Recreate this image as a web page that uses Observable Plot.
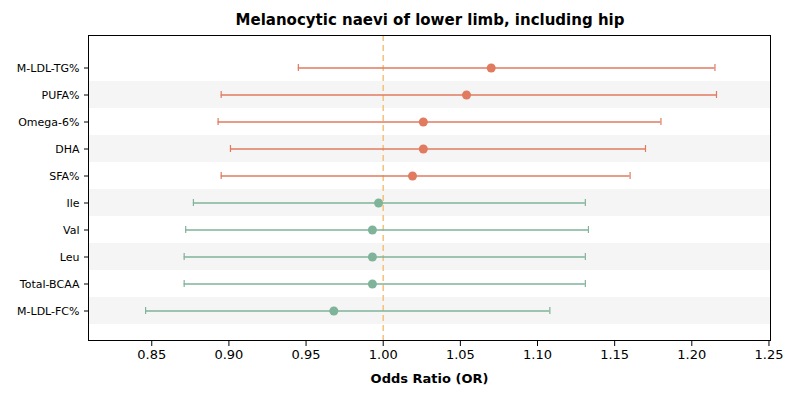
<!DOCTYPE html>
<html><head>
<meta charset="utf-8">
<script src="https://cdn.jsdelivr.net/npm/d3@7"></script>
<script src="https://cdn.jsdelivr.net/npm/@observablehq/plot@0.6"></script>
<style>body{margin:0;background:#fff;font-family:"DejaVu Sans",sans-serif}
#title{height:26px;line-height:40px;text-align:center;font-weight:bold;font-size:15px;padding-left:60px}</style>
</head><body>
<div id="title">Melanocytic naevi of lower limb, including hip</div>
<div id="chart"></div>
<script>
const names = ["M-LDL-TG%","PUFA%","Omega-6%","DHA","SFA%","Ile","Val","Leu","Total-BCAA","M-LDL-FC%"];
const orVals = [1.070,1.054,1.026,1.026,1.019,0.997,0.993,0.993,0.993,0.968];
const lower = [0.945,0.895,0.893,0.901,0.895,0.877,0.872,0.871,0.871,0.846];
const upper = [1.215,1.216,1.180,1.170,1.160,1.131,1.133,1.131,1.131,1.108];
const group = ["fa","fa","fa","fa","fa","aa","aa","aa","aa","aa"];

const data = names.map((n,i)=>({name:n, or:orVals[i], lo:lower[i], hi:upper[i], g:group[i], i}));
const stripes = data.filter(d=>d.i%2===1);
const col = g => g==="fa" ? "#e07b5f" : "#7fb39a";
const dom = [0.809, 1.251];

const chart = Plot.plot({
  width: 800, height: 374,
  marginLeft: 88, marginRight: 30, marginTop: 9, marginBottom: 60,
  style: {fontFamily: "DejaVu Sans, sans-serif", fontSize: "11px"},
  x: {domain: dom, ticks: d3.range(0.85,1.2501,0.05), tickFormat: d3.format(".2f"),
      label: "Odds Ratio (OR)", labelAnchor: "center", labelOffset: 42},
  y: {domain: names, padding: 0, label: null, tickSize: 4, insetTop: 14, insetBottom: 12},
  marks: [
    Plot.barX(stripes, {y: "name", x1: dom[0], x2: dom[1], fill: "#f5f5f5"}),
    Plot.ruleX([1], {stroke: "#f5c07a", strokeWidth: 1.5, strokeDasharray: "6,4"}),
    Plot.ruleY(data, {y: "name", x1: "lo", x2: "hi", stroke: d=>col(d.g), strokeWidth: 1.5}),
    Plot.tickX(data, {y: "name", x: "lo", stroke: d=>col(d.g), strokeWidth: 1.2, insetTop: 10, insetBottom: 10}),
    Plot.tickX(data, {y: "name", x: "hi", stroke: d=>col(d.g), strokeWidth: 1.2, insetTop: 10, insetBottom: 10}),
    Plot.dot(data, {y: "name", x: "or", fill: d=>col(d.g), r: 4.5}),
    Plot.frame({stroke: "#000"})
  ]
});
chart.querySelectorAll('[aria-label="x-axis label"] text').forEach(t=>{t.textContent="Odds Ratio (OR)";t.style.fontWeight="bold";t.style.fontSize="13px";});
chart.querySelectorAll('[aria-label="x-axis tick label"] text').forEach(t=>t.style.fontSize="13px");
d3.select('#chart').append(() => chart);
</script>
</body></html>
